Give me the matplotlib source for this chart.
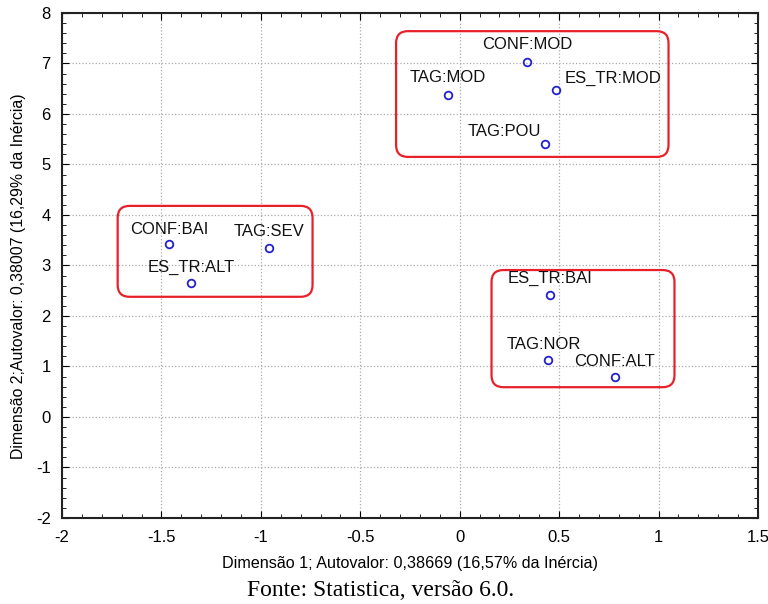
import numpy as np
import matplotlib.pyplot as plt
from matplotlib.patches import FancyBboxPatch
from matplotlib.ticker import MultipleLocator

# category points (dimension 1, dimension 2)
labels = ['CONF:MOD', 'TAG:MOD', 'ES_TR:MOD', 'TAG:POU',
          'CONF:BAI', 'TAG:SEV', 'ES_TR:ALT',
          'ES_TR:BAI', 'TAG:NOR', 'CONF:ALT']
dim1 = [0.338, -0.059, 0.484, 0.428, -1.462, -0.959, -1.351, 0.453, 0.443, 0.780]
dim2 = [7.03, 6.38, 6.47, 5.40, 3.43, 3.35, 2.65, 2.42, 1.13, 0.79]

# groups highlighted with red boxes (x0, y0, x1, y1)
groups = [(-0.32, 5.15, 1.05, 7.64),
          (-1.72, 2.38, -0.74, 4.18),
          (0.16, 0.59, 1.08, 2.91)]

# label offsets in points (dx, dy, ha)
offs = [(0, 7, 'center'), (0, 7, 'center'), (6, 3, 'left'), (-3, 4, 'right'),
        (0, 5, 'center'), (0, 6, 'center'), (0, 6, 'center'),
        (0, 6, 'center'), (-3, 6, 'center'), (0, 6, 'center')]

narrow = ['Liberation Sans Narrow', 'Liberation Sans']

fig = plt.figure(figsize=(7.68, 6.04), dpi=100)
ax = fig.add_axes([0.0807, 0.1424, 0.9063, 0.8361])

ax.set_xlim(-2, 1.5)
ax.set_ylim(-2, 8)
ax.xaxis.set_major_locator(MultipleLocator(0.5))
ax.xaxis.set_minor_locator(MultipleLocator(0.1))
ax.yaxis.set_major_locator(MultipleLocator(1))
ax.yaxis.set_minor_locator(MultipleLocator(0.2))
ax.grid(True, which='major', linestyle=':', color='#aaaaaa', linewidth=0.9)
ax.set_axisbelow(True)
ax.tick_params(which='both', direction='in', top=True, right=True, labelsize=12)
ax.tick_params(which='major', length=5)
ax.tick_params(which='minor', length=3)
ax.tick_params(axis='x', pad=9)
ax.tick_params(axis='y', pad=8)
ax.set_xticks(np.arange(-2, 1.51, 0.5))
ax.set_xticklabels(['-2', '-1.5', '-1', '-0.5', '0', '0.5', '1', '1.5'], family=narrow)
ax.set_yticks(np.arange(-2, 8.1, 1))
ax.set_yticklabels([str(v) for v in range(-2, 9)], family=narrow)
for s in ax.spines.values():
    s.set_linewidth(1.5)
    s.set_color('#222222')

ax.plot(dim1, dim2, 'o', mfc='none', mec='#2222cc', mew=1.3, ms=5.5, zorder=4)

for lab, x, y, (dx, dy, ha) in zip(labels, dim1, dim2, offs):
    ax.annotate(lab, (x, y), xytext=(dx, dy), textcoords='offset points',
                ha=ha, va='bottom', fontsize=12, family='Liberation Sans',
                color='#111111', zorder=5)

for x0, y0, x1, y1 in groups:
    ax.add_patch(FancyBboxPatch((x0, y0), x1 - x0, y1 - y0,
                                boxstyle='round,pad=0,rounding_size=0.06',
                                mutation_aspect=3.94, fill=False,
                                edgecolor='#e8202a', linewidth=1.6, zorder=3))

ax.set_xlabel('Dimensão 1; Autovalor: 0,38669 (16,57% da Inércia)', fontsize=11.6,
              family=narrow, labelpad=7.5)
ax.set_ylabel('Dimensão 2;Autovalor: 0,38007 (16,29% da Inércia)', fontsize=11.4,
              family=narrow)
ax.yaxis.set_label_coords(-0.052, 0.478)

fig.text(0.496, 0.022, 'Fonte: Statistica, versão 6.0.', ha='center', va='center',
         fontsize=17, family='Liberation Serif')

plt.savefig('out.png', dpi=100)
